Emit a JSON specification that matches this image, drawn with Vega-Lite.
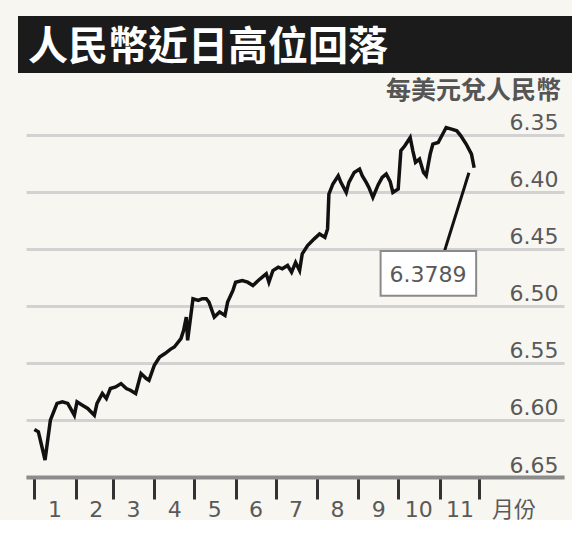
{
  "$schema": "https://vega.github.io/schema/vega-lite/v6.json",
  "background": "#f8f6f1",
  "padding": {"left": 18, "top": 16, "right": 0, "bottom": 0},
  "spacing": 5,
  "center": true,
  "config": {
    "view": {"stroke": null},
    "font": "DejaVu Sans, Noto Sans CJK TC"
  },
  "vconcat": [
    {
      "width": 554,
      "height": 57,
      "view": {"fill": "#1b1b1b", "stroke": null},
      "title": {
        "text": "人民幣近日高位回落",
        "anchor": "start",
        "frame": "group",
        "orient": "top",
        "offset": -84,
        "baseline": "alphabetic",
        "dx": 10,
        "fontSize": 40,
        "fontWeight": "bold",
        "color": "#ffffff",
        "font": "Noto Sans CJK TC"
      },
      "data": {"values": []},
      "mark": "text"
    },
    {
      "width": 538,
      "height": 365,
      "title": {
        "text": "每美元兌人民幣",
        "anchor": "end",
        "frame": "group",
        "baseline": "alphabetic",
        "offset": -12,
        "dx": -3,
        "fontSize": 25,
        "fontWeight": "bold",
        "color": "#555555",
        "font": "Noto Sans CJK TC"
      },
      "layer": [
        {
          "data": {"values": [
            {"date": "2011-01-01", "rate": 6.6083}, {"date": "2011-01-04", "rate": 6.6104}, {"date": "2011-01-09", "rate": 6.6351},
            {"date": "2011-01-13", "rate": 6.6002}, {"date": "2011-01-18", "rate": 6.5855}, {"date": "2011-01-22", "rate": 6.5841},
            {"date": "2011-01-26", "rate": 6.5855}, {"date": "2011-01-31", "rate": 6.5958}, {"date": "2011-02-02", "rate": 6.5841},
            {"date": "2011-02-06", "rate": 6.587}, {"date": "2011-02-10", "rate": 6.5899}, {"date": "2011-02-15", "rate": 6.5958},
            {"date": "2011-02-17", "rate": 6.5855}, {"date": "2011-02-21", "rate": 6.5768}, {"date": "2011-02-24", "rate": 6.5812},
            {"date": "2011-02-27", "rate": 6.5724}, {"date": "2011-03-03", "rate": 6.571}, {"date": "2011-03-07", "rate": 6.5681},
            {"date": "2011-03-11", "rate": 6.5724}, {"date": "2011-03-14", "rate": 6.5739}, {"date": "2011-03-18", "rate": 6.5768},
            {"date": "2011-03-22", "rate": 6.5593}, {"date": "2011-03-26", "rate": 6.5637}, {"date": "2011-03-28", "rate": 6.5652},
            {"date": "2011-04-01", "rate": 6.552}, {"date": "2011-04-05", "rate": 6.5448}, {"date": "2011-04-09", "rate": 6.5418},
            {"date": "2011-04-13", "rate": 6.5381}, {"date": "2011-04-16", "rate": 6.536}, {"date": "2011-04-21", "rate": 6.5287},
            {"date": "2011-04-23", "rate": 6.5214}, {"date": "2011-04-25", "rate": 6.5098}, {"date": "2011-04-26", "rate": 6.5302},
            {"date": "2011-04-30", "rate": 6.4937}, {"date": "2011-05-04", "rate": 6.4952}, {"date": "2011-05-07", "rate": 6.4937},
            {"date": "2011-05-10", "rate": 6.4937}, {"date": "2011-05-12", "rate": 6.4967}, {"date": "2011-05-16", "rate": 6.5098},
            {"date": "2011-05-20", "rate": 6.5054}, {"date": "2011-05-24", "rate": 6.5083}, {"date": "2011-05-26", "rate": 6.4967},
            {"date": "2011-05-30", "rate": 6.4864}, {"date": "2011-06-01", "rate": 6.4792}, {"date": "2011-06-06", "rate": 6.4777},
            {"date": "2011-06-10", "rate": 6.4792}, {"date": "2011-06-14", "rate": 6.4821}, {"date": "2011-06-18", "rate": 6.4777},
            {"date": "2011-06-21", "rate": 6.4748}, {"date": "2011-06-24", "rate": 6.4718}, {"date": "2011-06-26", "rate": 6.4792},
            {"date": "2011-06-29", "rate": 6.469}, {"date": "2011-07-03", "rate": 6.4661}, {"date": "2011-07-06", "rate": 6.4675},
            {"date": "2011-07-10", "rate": 6.4646}, {"date": "2011-07-13", "rate": 6.4704}, {"date": "2011-07-16", "rate": 6.462},
            {"date": "2011-07-19", "rate": 6.469}, {"date": "2011-07-21", "rate": 6.4543}, {"date": "2011-07-25", "rate": 6.4471},
            {"date": "2011-07-30", "rate": 6.4412}, {"date": "2011-08-03", "rate": 6.4369}, {"date": "2011-08-07", "rate": 6.4398},
            {"date": "2011-08-09", "rate": 6.4325}, {"date": "2011-08-10", "rate": 6.4019}, {"date": "2011-08-13", "rate": 6.3931},
            {"date": "2011-08-17", "rate": 6.3859}, {"date": "2011-08-19", "rate": 6.3917}, {"date": "2011-08-23", "rate": 6.4005},
            {"date": "2011-08-25", "rate": 6.3917}, {"date": "2011-08-29", "rate": 6.383}, {"date": "2011-09-02", "rate": 6.38},
            {"date": "2011-09-04", "rate": 6.3859}, {"date": "2011-09-07", "rate": 6.3917}, {"date": "2011-09-09", "rate": 6.3961},
            {"date": "2011-09-12", "rate": 6.4048}, {"date": "2011-09-16", "rate": 6.3937}, {"date": "2011-09-19", "rate": 6.3873},
            {"date": "2011-09-22", "rate": 6.3844}, {"date": "2011-09-25", "rate": 6.3911}, {"date": "2011-09-27", "rate": 6.4005},
            {"date": "2011-10-01", "rate": 6.3975}, {"date": "2011-10-03", "rate": 6.364}, {"date": "2011-10-06", "rate": 6.3596},
            {"date": "2011-10-10", "rate": 6.3524}, {"date": "2011-10-12", "rate": 6.364}, {"date": "2011-10-14", "rate": 6.3742},
            {"date": "2011-10-17", "rate": 6.3713}, {"date": "2011-10-20", "rate": 6.383}, {"date": "2011-10-22", "rate": 6.3859},
            {"date": "2011-10-25", "rate": 6.3669}, {"date": "2011-10-27", "rate": 6.3581}, {"date": "2011-10-31", "rate": 6.3567},
            {"date": "2011-11-04", "rate": 6.348}, {"date": "2011-11-06", "rate": 6.3436}, {"date": "2011-11-10", "rate": 6.345},
            {"date": "2011-11-14", "rate": 6.3465}, {"date": "2011-11-17", "rate": 6.3509}, {"date": "2011-11-21", "rate": 6.3581},
            {"date": "2011-11-25", "rate": 6.3669}, {"date": "2011-11-27", "rate": 6.3789}
          ]},
          "mark": {"type": "line", "color": "#111111", "strokeWidth": 3.5, "strokeJoin": "miter"},
          "encoding": {
            "x": {
              "field": "date",
              "type": "temporal",
              "scale": {
                "type": "utc",
                "domain": [
                  {"year": 2010, "month": 12, "date": 25, "hours": 17, "utc": true},
                  {"year": 2012, "month": 2, "date": 2, "hours": 10, "utc": true}
                ],
                "nice": false
              },
              "axis": {
                "title": null,
                "values": [
                  {"year": 2011, "month": 1, "date": 1, "utc": true},
                  {"year": 2011, "month": 2, "date": 1, "utc": true},
                  {"year": 2011, "month": 3, "date": 1, "utc": true},
                  {"year": 2011, "month": 4, "date": 1, "utc": true},
                  {"year": 2011, "month": 5, "date": 1, "utc": true},
                  {"year": 2011, "month": 6, "date": 1, "utc": true},
                  {"year": 2011, "month": 7, "date": 1, "utc": true},
                  {"year": 2011, "month": 8, "date": 1, "utc": true},
                  {"year": 2011, "month": 9, "date": 1, "utc": true},
                  {"year": 2011, "month": 10, "date": 1, "utc": true},
                  {"year": 2011, "month": 11, "date": 1, "utc": true},
                  {"year": 2011, "month": 12, "date": 1, "utc": true}
                ],
                "labelExpr": "utcmonth(datum.value) == 11 ? '月份' : utcFormat(datum.value, '%-m')",
                "labelOffset": {"condition": {"test": "utcmonth(datum.value) == 11", "value": 34}, "value": 20},
                "labelFlush": false,
                "labelOverlap": false,
                "labelPadding": 0,
                "labelFontSize": 22,
                "labelColor": "#595959",
                "tickSize": 22,
                "tickWidth": 3,
                "tickColor": "#333333",
                "domainColor": "#8c8c8c",
                "domainWidth": 4,
                "grid": false
              }
            },
            "y": {
              "field": "rate",
              "type": "quantitative",
              "scale": {"domain": [6.33, 6.65], "reverse": true, "nice": false, "zero": false},
              "axis": {
                "title": null,
                "orient": "right",
                "values": [6.35, 6.4, 6.45, 6.5, 6.55, 6.6, 6.65],
                "format": ".2f",
                "grid": true,
                "gridColor": "#d2d2d2",
                "gridWidth": 3,
                "ticks": false,
                "tickSize": 0,
                "domain": false,
                "labelAlign": "right",
                "labelBaseline": "alphabetic",
                "labelPadding": -6,
                "labelOffset": -5,
                "labelFontSize": 22,
                "labelColor": "#595959"
              }
            }
          }
        },
        {
          "data": {"values": [{"date": "2011-11-04T19:00:00Z", "rate": 6.4518, "date2": "2011-11-23T02:00:00Z", "rate2": 6.3833}]},
          "mark": {"type": "rule", "color": "#111111", "strokeWidth": 3},
          "encoding": {
            "x": {"field": "date", "type": "temporal"},
            "y": {"field": "rate", "type": "quantitative"},
            "x2": {"field": "date2"},
            "y2": {"field": "rate2"}
          }
        },
        {
          "data": {"values": [{"date": "2011-09-17T19:00:00Z", "date2": "2011-11-28T12:00:00Z", "rate": 6.4518, "rate2": 6.4912}]},
          "mark": {"type": "rect", "fill": "#ffffff", "stroke": "#8a8a8a", "strokeWidth": 2},
          "encoding": {
            "x": {"field": "date", "type": "temporal"},
            "x2": {"field": "date2"},
            "y": {"field": "rate", "type": "quantitative"},
            "y2": {"field": "rate2"}
          }
        },
        {
          "data": {"values": [{"date": "2011-10-23T07:00:00Z", "rate": 6.4728, "label": "6.3789"}]},
          "mark": {"type": "text", "fontSize": 22, "color": "#595959", "align": "center", "baseline": "middle"},
          "encoding": {
            "x": {"field": "date", "type": "temporal"},
            "y": {"field": "rate", "type": "quantitative"},
            "text": {"field": "label"}
          }
        }
      ]
    }
  ]
}
